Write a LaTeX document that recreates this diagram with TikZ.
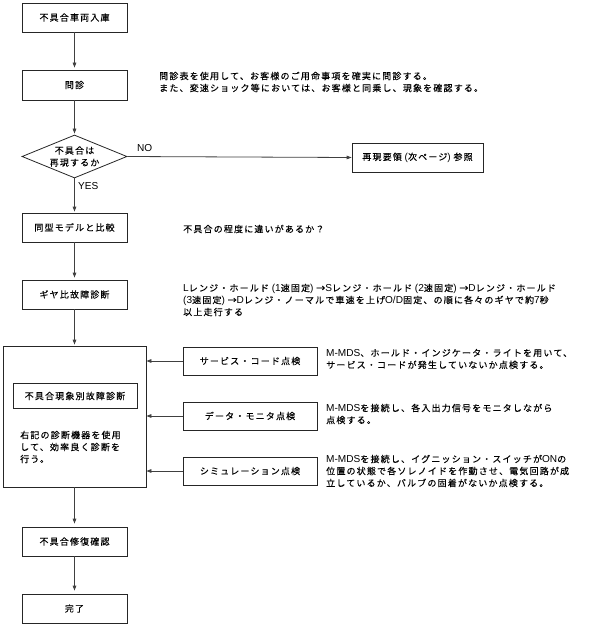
\documentclass[tikz,border=0pt]{standalone}
\usepackage{fontspec}
\setmainfont{Noto Sans CJK JP}[LetterSpace=13, FakeBold=0.12]
\newfontfamily\latinfont{Liberation Sans}[Scale=1.12]
\newcommand\lat[1]{{\latinfont #1}}
\usetikzlibrary{arrows.meta,shapes.geometric}
\tikzset{
  every node/.style={font=\fontsize{9}{12}\selectfont},
  box/.style={draw=black!85, line width=0.8pt, minimum width=105pt, minimum height=29pt, inner sep=0pt},
  sbox/.style={draw=black!85, line width=0.8pt, minimum width=134pt, minimum height=28pt, inner sep=0pt},
  note/.style={anchor=west, align=left, inner sep=0pt},
  conn/.style={draw=black!75, line width=0.8pt, -{Triangle[length=5pt,width=3.6pt]}}
}
\begin{document}
\begin{tikzpicture}[x=1pt,y=-1pt]
\useasboundingbox[fill=white] (0,0) rectangle (593,626);
% main column
\node[box] (b1) at (74.5,17.5) {不具合車両入庫};
\node[box, minimum height=30pt] (b2) at (74.5,85) {問診};
\node[diamond, draw=black!85, line width=0.8pt, minimum width=105pt, minimum height=43pt, inner sep=0pt] (q) at (74.5,156.5) {};
\node[align=center, inner sep=0pt] (qtext) at (74.5,156.5) {不具合は\\再現するか};
\node[box] (b3) at (74.5,227.5) {同型モデルと比較};
\node[box] (b4) at (74.5,294.5) {ギヤ比故障診断};
\node[draw=black!85, line width=0.8pt, minimum width=143pt, minimum height=141pt, inner sep=0pt] (big) at (74.5,416.5) {};
\node[draw=black!85, line width=0.8pt, minimum width=124pt, minimum height=25pt, inner sep=0pt] (inner) at (75,396) {不具合現象別故障診断};
\node[note] (bigtext) at (20,447) {右記の診断機器を使用\\して、効率良く診断を\\行う。};
\node[box] (b5) at (74.5,541.5) {不具合修復確認};
\node[box] (b6) at (74.5,608.5) {完了};
% right side
\node[box, minimum width=131pt] (r0) at (417.5,157.5) {再現要領\lat{ (}次ページ\lat{) }参照};
\node[sbox] (s1) at (250,361) {サービス・コード点検};
\node[sbox] (s2) at (250,416) {データ・モニタ点検};
\node[sbox] (s3) at (250,471) {シミュレーション点検};
% notes
\node[note] (n1) at (159,82) {問診表を使用して、お客様のご用命事項を確実に問診する。\\また、変速ショック等においては、お客様と同乗し、現象を確認する。};
\node[note] (n2) at (183,229) {不具合の程度に違いがあるか？};
\node[note] (n3) at (183,300) {\lat{L}レンジ・ホールド\lat{ (1}速固定\lat{) }→\lat{S}レンジ・ホールド\lat{ (2}速固定\lat{) }→\lat{D}レンジ・ホールド\\\lat{(3}速固定\lat{) }→\lat{D}レンジ・ノーマルで車速を上げ\lat{O/D}固定、の順に各々のギヤで約\lat{7}秒\\以上走行する};
\node[note] (n4) at (326,359) {\lat{M-MDS}、ホールド・インジケータ・ライトを用いて、\\サービス・コードが発生していないか点検する。};
\node[note] (n5) at (326,414) {\lat{M-MDS}を接続し、各入出力信号をモニタしながら\\点検する。};
\node[note] (n6) at (326,471) {\lat{M-MDS}を接続し、イグニッション・スイッチが\lat{ON}の\\位置の状態で各ソレノイドを作動させ、電気回路が成\\立しているか、バルブの固着がないか点検する。};
\node[note] (no) at (137,148) {\lat{NO}};
\node[note] (yes) at (78,186) {\lat{YES}};
% connectors
\draw[conn, shorten >=2pt] (b1) -- (b2);
\draw[conn, shorten >=1pt] (b2) -- (q);
\draw[conn, shorten >=1pt] (q.south) -- (b3);
\draw[conn] (q.east) -- (r0.west);
\draw[conn, shorten >=2pt] (b3) -- (b4);
\draw[conn, shorten >=1pt] (b4) -- (big);
\draw[conn] (s1.west) -- (s1.west -| big.east);
\draw[conn] (s2.west) -- (s2.west -| big.east);
\draw[conn] (s3.west) -- (s3.west -| big.east);
\draw[conn, shorten >=3pt] (big) -- (b5);
\draw[conn, shorten >=3pt] (b5) -- (b6);
\end{tikzpicture}
\end{document}
